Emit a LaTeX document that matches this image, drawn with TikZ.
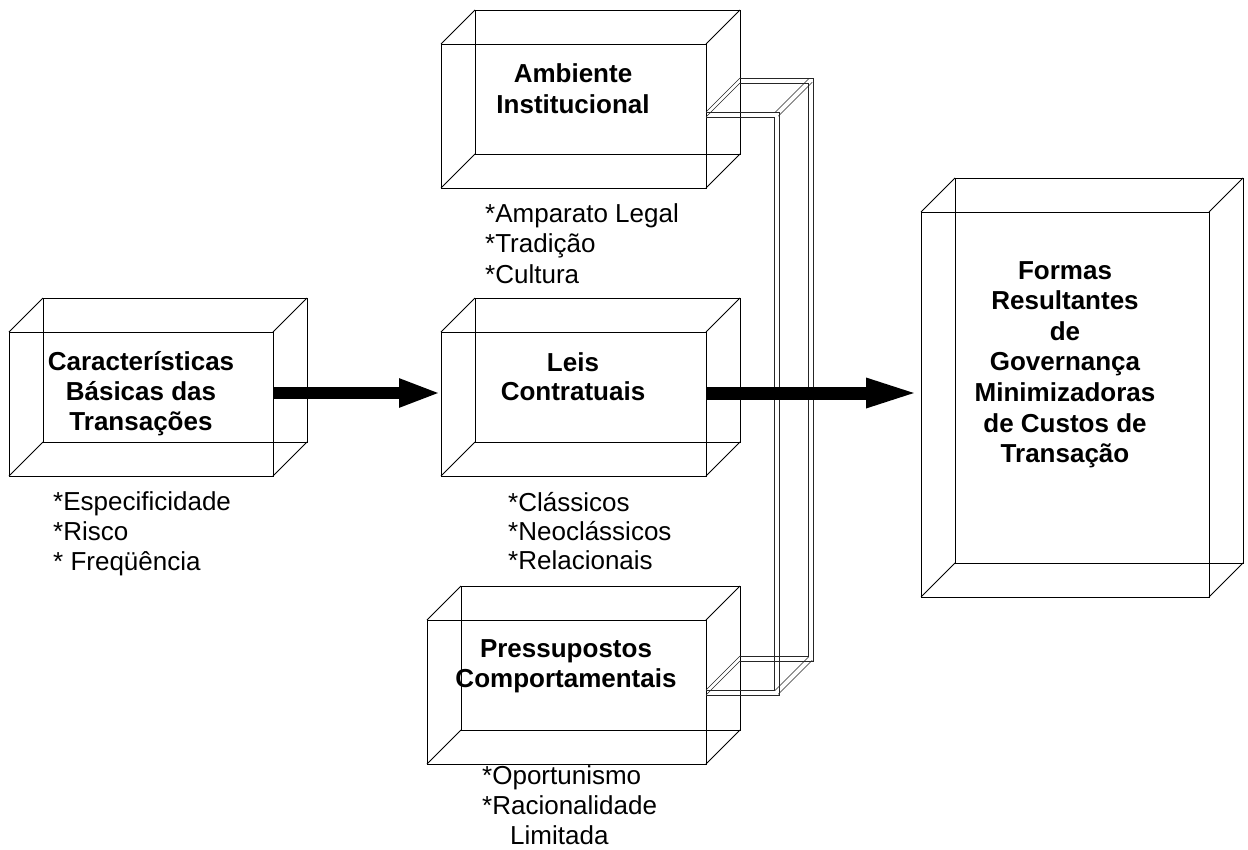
\documentclass[tikz,border=0pt]{standalone}
\usepackage{fontspec}
\setmainfont{Liberation Sans}
\usetikzlibrary{arrows.meta}
\newcommand\cubeback[1]{%
  \draw[edge3d] ([shift={(34,-34)}]#1.north west) rectangle ([shift={(34,-34)}]#1.south east);
  \foreach \cn in {north west,north east,south west,south east}
    \draw[edge3d] (#1.\cn) -- ([shift={(34,-34)}]#1.\cn);}
\begin{document}
\begin{tikzpicture}[x=1pt,y=-1pt,
  face/.style={draw, line width=0.8pt, inner sep=0pt, outer sep=0pt},
  edge3d/.style={line width=0.8pt},
  bold/.style={font=\fontsize{26}{31}\selectfont\bfseries, inner sep=0pt, anchor=base},
  item/.style={font=\fontsize{26}{31}\selectfont, inner sep=0pt, anchor=base west},
  bigarrowA/.style={line width=12pt, -{Triangle[length=42pt,width=26pt]}},
  bigarrowB/.style={line width=13pt, -{Triangle[length=55pt,width=26pt]}},
  pipe/.style={line width=0.6pt, black!85}]
\useasboundingbox (0,0) rectangle (1248,849);

% front faces
\node[face, minimum width=264, minimum height=144] (cb) at (141,404) {};
\node[face, minimum width=265, minimum height=144] (amb) at (573.5,116) {};
\node[face, minimum width=265, minimum height=144] (leis) at (573.5,404) {};
\node[face, minimum width=279, minimum height=144] (pres) at (566.5,692) {};
\node[face, minimum width=288, minimum height=385] (formas) at (1065,404.5) {};

% back faces and depth edges
\cubeback{cb}
\cubeback{amb}
\cubeback{leis}
\cubeback{pres}
\cubeback{formas}

% connecting pipe (3D bracket)
\draw[pipe] (706,112) -- (779,112) -- (779,695) -- (706,695);
\draw[pipe] (706,117) -- (774,117) -- (774,690) -- (706,690);
\draw[pipe] (740,78) -- (813,78) -- (813,661) -- (740,661);
\draw[pipe] (740,83) -- (808,83) -- (808,656) -- (740,656);
\draw[pipe] (706,112) -- (740,78);
\draw[pipe] (706,117) -- (740,83);
\draw[pipe] (774.75,112.75) -- (808.75,78.75);
\draw[pipe] (778.25,116.25) -- (812.25,82.25);
\draw[pipe] (774.75,690.75) -- (808.75,656.75);
\draw[pipe] (778.25,694.25) -- (812.25,660.25);
\draw[pipe] (706,690) -- (740,656);
\draw[pipe] (706,695) -- (740,661);

% arrows
\draw[bigarrowA] ([yshift=11pt]cb.east) -- ([yshift=11pt]leis.west);
\draw[bigarrowB] ([yshift=11pt]leis.east) -- ([yshift=11pt]leis.east -| formas.west);

% box titles
\node[bold] (t1) at (573,82) {Ambiente};
\node[bold] (t2) at (573,113) {Institucional};
\node[bold] (t3) at (141,370) {Características};
\node[bold] (t4) at (141,400) {Básicas das};
\node[bold] (t5) at (141,430) {Transações};
\node[bold] (t6) at (573,371) {Leis};
\node[bold] (t7) at (573,400) {Contratuais};
\node[bold] (t8) at (566,657) {Pressupostos};
\node[bold] (t9) at (566,687) {Comportamentais};
\node[bold] (f1) at (1065,279) {Formas};
\node[bold] (f2) at (1065,309.6) {Resultantes};
\node[bold] (f3) at (1065,340.2) {de};
\node[bold] (f4) at (1065,370.8) {Governança};
\node[bold] (f5) at (1065,401.4) {Minimizadoras};
\node[bold] (f6) at (1065,432) {de Custos de};
\node[bold] (f7) at (1065,462.6) {Transação};

% lists
\node[item] (a1) at (485,222) {*Amparato Legal};
\node[item] (a2) at (485,252) {*Tradição};
\node[item] (a3) at (485,283) {*Cultura};
\node[item] (b1) at (53,510) {*Especificidade};
\node[item] (b2) at (53,540) {*Risco};
\node[item] (b3) at (53,570) {* Freqüência};
\node[item] (c1) at (508,511) {*Clássicos};
\node[item] (c2) at (508,540) {*Neoclássicos};
\node[item] (c3) at (508,569) {*Relacionais};
\node[item] (d1) at (482,784) {*Oportunismo};
\node[item] (d2) at (482,814) {*Racionalidade};
\node[item] (d3) at (510,844) {Limitada};
\end{tikzpicture}
\end{document}
